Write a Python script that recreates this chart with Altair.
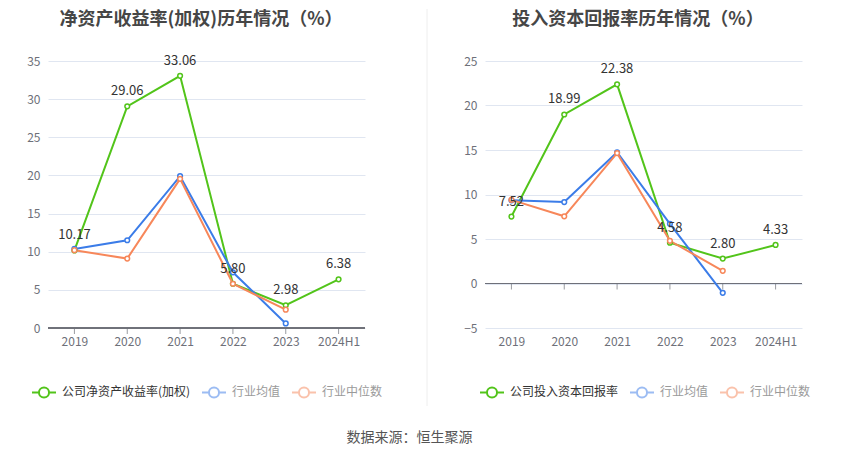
import altair as alt
import pandas as pd

years = ["2019", "2020", "2021", "2022", "2023", "2024H1"]

roe_title = "净资产收益率(加权)历年情况（%）"
roe_name = "公司净资产收益率(加权)"
roe_company = [10.17, 29.06, 33.06, 5.80, 2.98, 6.38]
roe_mean = [10.37, 11.5, 19.9, 7.3, 0.6, None]
roe_median = [10.2, 9.1, 19.55, 5.8, 2.4, None]

roic_title = "投入资本回报率历年情况（%）"
roic_name = "公司投入资本回报率"
roic_company = [7.52, 18.99, 22.38, 4.58, 2.80, 4.33]
roic_mean = [9.35, 9.15, 14.75, 6.7, -1.05, None]
roic_median = [9.4, 7.55, 14.65, 4.8, 1.42, None]

mean_name = "行业均值"
median_name = "行业中位数"
source_text = "数据来源：恒生聚源"

W, H = 317, 267
GREEN, BLUE, ORANGE = "#52c41a", "#3b7ce8", "#f7875a"
AXIS_C = "#6E7079"
FONT = "Noto Sans CJK SC"

SYMBOL = ("M-1,0L-0.42,0M0.42,0L1,0M-0.42,0"
          "A0.42,0.42,0,1,1,0.42,0A0.42,0.42,0,1,1,-0.42,0")


def panel(title, company_name, comp, mean, med, ydomain, yticks, lx, sep=False):
    rows = []
    for name, vals in [(company_name, comp), (mean_name, mean), (median_name, med)]:
        for yr, v in zip(years, vals):
            if v is not None:
                rows.append({"year": yr, "series": name, "value": v})
    df = pd.DataFrame(rows)
    zero_df = pd.DataFrame({"year": years, "value": [0] * len(years)})
    title_df = pd.DataFrame({"t": [title]})

    xs = alt.X("year:N", sort=years,
               scale=alt.Scale(type="point", padding=0.5, domain=years),
               axis=alt.Axis(title=None, labelAngle=0, domain=False, ticks=False,
                             grid=False, labelColor=AXIS_C, labelFontSize=12,
                             labelPadding=8))
    yaxis = alt.Axis(title=None, values=yticks, domain=False, ticks=False,
                     gridColor="#E0E6F1", labelColor=AXIS_C,
                     labelFontSize=12, labelPadding=8,
                     minExtent=40, maxExtent=40)
    ys = alt.Y("value:Q", scale=alt.Scale(domain=ydomain, nice=False, zero=False),
               axis=yaxis)
    gray_expr = f"datum.value == '{mean_name}' || datum.value == '{median_name}'"
    color = alt.Color(
        "series:N",
        scale=alt.Scale(domain=[company_name, mean_name, median_name],
                        range=[GREEN, BLUE, ORANGE]),
        legend=alt.Legend(
            title=None, orient="none", legendX=lx, legendY=318,
            direction="horizontal", symbolType=SYMBOL, symbolSize=576,
            symbolStrokeWidth=2, symbolFillColor="white",
            labelFontSize=12, labelOffset=5, columnPadding=7, labelLimit=300,
            labelColor={"expr": f"{gray_expr} ? '#9a9a9a' : '#333333'"},
            symbolOpacity={"expr": f"{gray_expr} ? 0.5 : 1"},
        ),
    )

    base = alt.Chart(df)
    zero_line = alt.Chart(zero_df).mark_rule(color=AXIS_C, strokeWidth=1).encode(
        y=ys, x=alt.value(0), x2=alt.value(W))
    tick_marks = alt.Chart(zero_df).mark_tick(
        orient="vertical", size=6, thickness=1, color=AXIS_C, yOffset=3
    ).encode(x=xs, y=ys)
    lines = base.mark_line(strokeWidth=2).encode(x=xs, y=ys, color=color)
    pts = base.mark_point(size=22, filled=False, fill="white", fillOpacity=1,
                          strokeWidth=1.5, opacity=1).encode(x=xs, y=ys, color=color)
    labels = base.transform_filter(alt.datum.series == company_name).mark_text(
        dy=-15, fontSize=13, color="#333333"
    ).encode(x=xs, y=ys, text=alt.Text("value:Q", format=".2f"))
    title_mark = alt.Chart(title_df).mark_text(
        fontSize=18, fontWeight="bold", color="#464646", align="center",
        baseline="middle"
    ).encode(x=alt.value(153), y=alt.value(-41), text="t:N")

    layers = [zero_line, tick_marks, lines, pts, labels, title_mark]
    if sep:
        sep_rule = alt.Chart(title_df).mark_rule(color="#eeeeee").encode(
            x=alt.value(-58), y=alt.value(-52), y2=alt.value(345))
        layers.append(sep_rule)

    return alt.layer(*layers).properties(width=W, height=H)


left = panel(roe_title, roe_name, roe_company, roe_mean, roe_median,
             [0, 35], [0, 5, 10, 15, 20, 25, 30, 35], -17)
right = panel(roic_title, roic_name, roic_company, roic_mean, roic_median,
              [-5, 25], [-5, 0, 5, 10, 15, 20, 25], -6, sep=True)

chart = alt.hconcat(left, right, spacing=120, bounds="flush").resolve_scale(
    color="independent").properties(
    padding={"left": 0, "top": 0, "right": 0, "bottom": 0},
    title=alt.TitleParams(source_text, orient="bottom", fontSize=14,
                          fontWeight="normal", color="#555555", offset=24,
                          anchor="middle"),
).configure(font=FONT).configure_view(stroke=None)

chart.save("out.html", embed_options={"renderer": "svg", "actions": False})
